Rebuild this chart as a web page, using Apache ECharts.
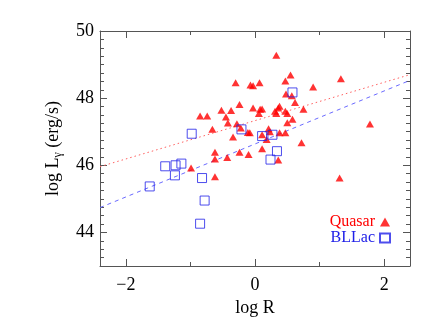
<!DOCTYPE html>
<html>
<head>
<meta charset="utf-8">
<script src="https://cdn.jsdelivr.net/npm/echarts@6/dist/echarts.min.js"></script>
<style>html,body{margin:0;padding:0;background:#fff}#c{width:440px;height:330px}</style>
</head>
<body>
<div id="c"></div>
<script>
// Quasar points (log R, log L_gamma)
var quasarX = [0.33,0.55,0.47,-0.30,-0.07,-0.03,0.07,1.33,0.90,0.48,0.57,0.62,-0.24,-0.03,-0.52,-0.37,0.06,0.08,0.11,0.38,0.36,0.31,0.33,0.47,0.50,0.75,-0.85,-0.74,-0.45,-0.42,-0.28,-0.22,0.58,0.50,-0.66,-0.11,-0.08,-0.34,0.21,0.23,0.11,0.18,0.38,0.47,0.72,1.78,0.11,-0.24,-0.10,-0.62,-0.62,-0.43,0.36,-0.99,-0.62,1.31];
var quasarY = [49.28,48.69,48.51,48.46,48.39,48.37,48.46,48.58,48.33,48.12,48.07,47.87,47.81,47.71,47.64,47.63,47.54,47.67,47.68,47.76,47.71,47.61,47.54,47.61,47.54,47.67,47.47,47.47,47.44,47.26,47.24,47.11,47.37,47.27,47.07,46.98,46.97,46.84,47.09,47.00,46.91,46.77,46.97,46.97,46.67,47.23,46.49,46.39,46.32,46.39,46.19,46.23,46.16,45.92,45.66,45.62];
// BL Lac points
var bllacX = [0.58,-0.21,-0.98,0.11,0.27,0.34,0.24,-1.39,-1.23,-1.14,-1.24,-0.82,-1.63,-0.78,-0.85];
var bllacY = [48.17,47.07,46.94,46.87,46.91,46.42,46.17,45.97,46.00,46.05,45.70,45.62,45.37,44.95,44.26];
// Fit lines (endpoints)
var quasarFitX = [-2.4, 2.4];
var quasarFitY = [45.96, 48.70];
var bllacFitX = [-2.4, 2.4];
var bllacFitY = [44.74, 48.53];
// Axis ticks
var xRange = [-2.4, 2.4];
var yRange = [43, 50];
var xMajorTicks = [-2, 0, 2];
var xMinorTicks = [-1, 1];
var yMajorTicks = [44, 46, 48, 50];
var yMinorTicks = [];
for (var t = 43; t <= 50.001; t += 0.25) {
  var v = Math.round(t * 100) / 100;
  if (yMajorTicks.indexOf(v) < 0) yMinorTicks.push(v);
}

var FONT = 'Liberation Serif';
var AX = '#555';
function zip(a, b) { return a.map(function (v, i) { return [v, b[i]]; }); }
function fmt(v) { return String(v).replace('-', '\u2212'); }

function xAxisDef(pos, ticks, len, showLine, showLabel, extra) {
  var o = {
    type: 'value', position: pos, min: xRange[0], max: xRange[1],
    axisLine: { show: showLine, onZero: false, lineStyle: { color: AX, width: 1 } },
    axisTick: { show: true, inside: true, length: len, customValues: ticks, lineStyle: { color: AX } },
    axisLabel: { show: showLabel, customValues: ticks, formatter: fmt, color: '#000', fontSize: 18, fontFamily: FONT, margin: 10 },
    splitLine: { show: false }
  };
  return Object.assign(o, extra || {});
}
function yAxisDef(pos, ticks, len, showLine, showLabel, extra) {
  var o = {
    type: 'value', position: pos, min: yRange[0], max: yRange[1],
    axisLine: { show: showLine, onZero: false, lineStyle: { color: AX, width: 1 } },
    axisTick: { show: true, inside: true, length: len, customValues: ticks, lineStyle: { color: AX } },
    axisLabel: { show: showLabel, customValues: ticks, formatter: fmt, color: '#000', fontSize: 18, fontFamily: FONT, margin: 6 },
    splitLine: { show: false }
  };
  return Object.assign(o, extra || {});
}

var chart = echarts.init(document.getElementById('c'), null, { renderer: 'canvas' });
chart.setOption({
  animation: false,
  backgroundColor: '#fff',
  grid: { left: 100, right: 30, top: 31, bottom: 64 },
  xAxis: [
    xAxisDef('bottom', xMajorTicks, 7, true, true, {
      name: 'log R', nameLocation: 'middle', nameGap: 31,
      nameTextStyle: { fontSize: 18, fontFamily: FONT, color: '#000' }
    }),
    xAxisDef('bottom', xMinorTicks, 4, false, false),
    xAxisDef('top', xMajorTicks, 7, true, false),
    xAxisDef('top', xMinorTicks, 4, false, false)
  ],
  yAxis: [
    yAxisDef('left', yMajorTicks, 7, true, true, {
      name: '{n|log L}{s|\u03b3}{n| (erg/s)}', nameLocation: 'middle', nameGap: 36, nameRotate: 90,
      nameTextStyle: {
        fontSize: 18, fontFamily: FONT, color: '#000',
        rich: {
          n: { fontSize: 18, fontFamily: FONT, color: '#000' },
          s: { fontSize: 12, fontFamily: FONT, color: '#000', padding: [10, 0, 0, 0] }
        }
      }
    }),
    yAxisDef('left', yMinorTicks, 4, false, false),
    yAxisDef('right', yMajorTicks, 7, true, false),
    yAxisDef('right', yMinorTicks, 4, false, false)
  ],
  legend: {
    orient: 'vertical', right: 49, top: 214, align: 'right', itemGap: 0, padding: 0,
    itemWidth: 10, itemHeight: 9, selectedMode: false,
    textStyle: { fontSize: 16, fontFamily: FONT },
    data: [
      { name: 'Quasar', icon: 'triangle', textStyle: { color: '#ff0000' } },
      { name: 'BLLac', icon: 'rect', textStyle: { color: '#2020e8' }, itemStyle: { borderWidth: 2, borderColor: '#2020e8', color: 'rgba(0,0,0,0)' } }
    ]
  },
  series: [
    { name: 'QuasarFit', type: 'line', data: zip(quasarFitX, quasarFitY), symbol: 'none', silent: true,
      lineStyle: { color: '#ff6060', width: 1, type: [1.5, 3] }, z: 1 },
    { name: 'BLLacFit', type: 'line', data: zip(bllacFitX, bllacFitY), symbol: 'none', silent: true,
      lineStyle: { color: '#6a6aff', width: 1, type: [4, 4] }, z: 1 },
    { name: 'Quasar', type: 'scatter', data: zip(quasarX, quasarY), symbol: 'triangle', symbolSize: [8, 7],
      itemStyle: { color: '#ff0000' }, z: 3 },
    { name: 'BLLac', type: 'scatter', data: zip(bllacX, bllacY), symbol: 'rect', symbolSize: 9,
      itemStyle: { color: 'rgba(0,0,0,0)', borderColor: '#2020e8', borderWidth: 1 }, z: 4 }
  ]
});
</script>
</body>
</html>
